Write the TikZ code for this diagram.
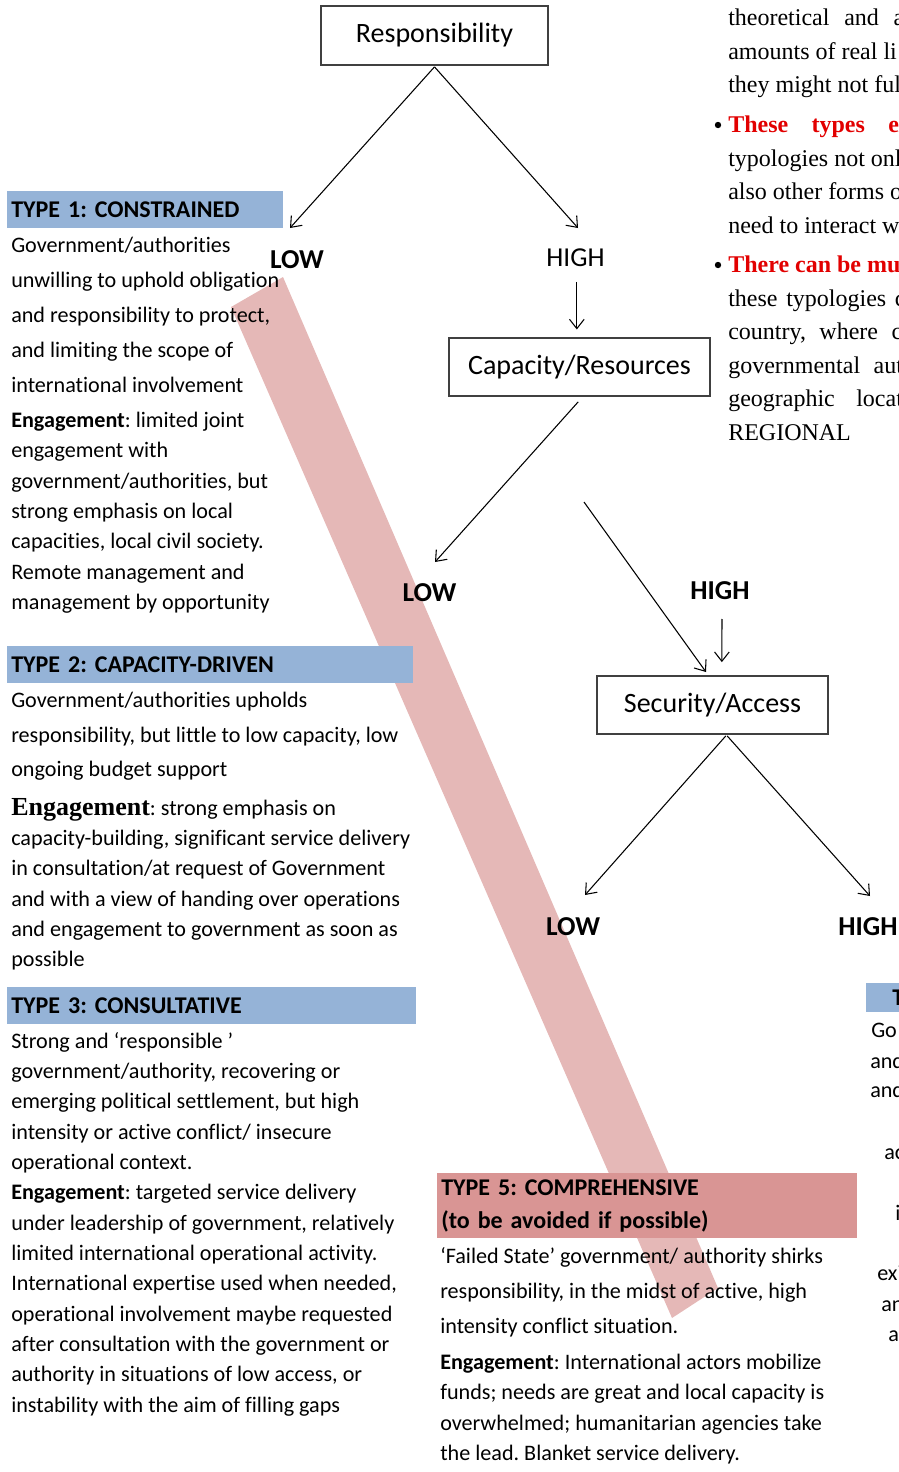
\documentclass[tikz,border=0pt]{standalone}
\usepackage{fontspec}
\setmainfont{Carlito}[Ligatures=NoCommon]
\newfontfamily\notefont{Liberation Serif}
\usetikzlibrary{arrows.meta}
\frenchspacing
\definecolor{typeblue}{RGB}{149,179,215}
\definecolor{bandpink}{RGB}{229,184,183}
\definecolor{typerose}{RGB}{217,149,148}
\definecolor{notered}{RGB}{226,0,0}
\newcommand{\bodyfont}[1]{\fontsize{16.6}{#1}\selectfont}
\newcommand{\notesize}{\notefont\fontsize{18}{25.1}\selectfont}

\begin{document}
\begin{tikzpicture}[x=0.75pt,y=0.75pt,yscale=-1,xscale=1,
  decision/.style={draw=black!75,line width=0.8pt,inner sep=0pt,font=\fontsize{21}{25}\selectfont},
  level/.style={inner sep=0pt,font=\fontsize{20.5}{24}\selectfont},
  arr/.style={-{Straight Barb[length=7pt,width=11pt]},line width=0.8pt},
  typehead/.style={fill=typeblue,anchor=north west,inner xsep=3pt,inner ysep=0pt,align=left,font=\fontsize{18}{24.75}\selectfont\bfseries},
  body/.style={anchor=north west,inner sep=0pt,align=left},
  note/.style={anchor=north west,inner sep=0pt,align=left,font=\notesize},
  dot/.style={circle,fill,inner sep=0pt,minimum size=4.8pt},
]
\useasboundingbox (0,0) rectangle (899,1472);

%Shape: diagonal band
\fill[bandpink] (231,307) -- (283,277) -- (718,1288) -- (672,1318) -- cycle;

%Decision boxes
\node[decision,minimum width=170.25pt,minimum height=44.25pt] (resp) at (434.5,35.5) {Responsibility};
\node[decision,minimum width=195.75pt,minimum height=43.5pt] (cap) at (579.5,367) {Capacity/Resources};
\node[decision,minimum width=173.25pt,minimum height=43.5pt] (sec) at (712.5,705) {Security/Access};

% Level labels
\node[level,font=\fontsize{20.5}{24}\selectfont\bfseries] (low1) at (297,260) {LOW};
\node[level] (high1) at (575.5,258) {HIGH};
\node[level,font=\fontsize{20.5}{24}\selectfont\bfseries] (low2) at (429.5,593) {LOW};
\node[level,font=\fontsize{20.5}{24}\selectfont\bfseries] (high2) at (720,591) {HIGH};
\node[level,font=\fontsize{20.5}{24}\selectfont\bfseries] (low3) at (573,927) {LOW};
\node[level,font=\fontsize{20.5}{24}\selectfont\bfseries] (high3) at (868,927) {HIGH};

% Arrow ends
\coordinate (low1tip) at (290,228);
\coordinate (high1tip) at (578,228);
\coordinate (low2tip) at (435,562);
\coordinate (crossstart) at (584,502);
\coordinate (crosstip) at (706,672);
\coordinate (low3tip) at (585,895);
\coordinate (high3tip) at (870,896);

%Straight Lines
\draw[arr] ([yshift=1pt]resp.south) -- (low1tip);
\draw[arr] ([yshift=1pt]resp.south) -- (high1tip);
\draw[arr] ([xshift=1pt,yshift=11pt]high1.south) -- ([xshift=-2pt,yshift=-6pt]cap.north);
\draw[arr] ([xshift=-1pt,yshift=4pt]cap.south) -- (low2tip);
\draw[arr] (crossstart) -- (crosstip);
\draw[arr] ([xshift=1.5pt,yshift=14pt]high2.south) -- ([xshift=7pt,yshift=-10pt]sec.north);
\draw[arr] ([xshift=10pt,yshift=1pt]sec.south) -- (low3tip);
\draw[arr] ([xshift=11pt,yshift=1pt]sec.south) -- (high3tip);

% Type headers
\node[typehead,text width=201pt,minimum height=27.75pt] (type1) at (7,191) {TYPE 1: CONSTRAINED};
\node[typehead,text width=298.5pt,minimum height=27.75pt] (type2) at (7,646) {TYPE 2: CAPACITY-DRIVEN};
\node[typehead,text width=300.75pt,minimum height=27.75pt] (type3) at (7,987) {TYPE 3: CONSULTATIVE};
\node[typehead,fill=typerose,text width=309pt,minimum height=48.75pt] (type5) at (437,1173) {TYPE 5: COMPREHENSIVE\\(to be avoided if possible)};
\fill[typeblue] (866,983) rectangle (899,1012);
\node[inner sep=0pt,anchor=west,font=\fontsize{18}{20}\selectfont\bfseries] (type4) at (892,998) {T};

% Text Node
\node[body,font=\bodyfont{26.25}] (t1a) at (11,237) {Government/authorities\\unwilling to uphold obligation\\and responsibility to protect,\\and limiting the scope of\\international involvement};
% Text Node
\node[body,font=\bodyfont{22.75}] (t1b) at (11,412) {\textbf{Engagement}: limited joint\\engagement with\\government/authorities, but\\strong emphasis on local\\capacities, local civil society.\\Remote management and\\management by opportunity};
% Text Node
\node[body,font=\bodyfont{25.9}] (t2a) at (11,692) {Government/authorities upholds\\responsibility, but little to low capacity, low\\ongoing budget support};
% Text Node
\node[body,font=\bodyfont{22.7}] (t2b) at (11,798) {{\notefont\fontsize{19.5}{22}\selectfont\bfseries Engagement}: strong emphasis on\\capacity-building, significant service delivery\\in consultation/at request of Government\\and with a view of handing over operations\\and engagement to government as soon as\\possible};
% Text Node
\node[body,font=\bodyfont{22.75}] (t3) at (11,1032) {Strong and ‘responsible ’\\government/authority, recovering or\\emerging political settlement, but high\\intensity or active conflict/ insecure\\operational context.\\\textbf{Engagement}: targeted service delivery\\under leadership of government, relatively\\limited international operational activity.\\International expertise used when needed,\\operational involvement maybe requested\\after consultation with the government or\\authority in situations of low access, or\\instability with the aim of filling gaps};
% Text Node
\node[body,font=\bodyfont{26.25}] (t5a) at (440,1247) {‘Failed State’ government/ authority shirks\\responsibility, in the midst of active, high\\intensity conflict situation.};
% Text Node
\node[body,font=\bodyfont{22.75}] (t5b) at (440,1354) {\textbf{Engagement}: International actors mobilize\\funds; needs are great and local capacity is\\overwhelmed; humanitarian agencies take\\the lead. Blanket service delivery.};

% Type 4 fragments
\foreach \fx/\fy/\ft [count=\i] in {871/1037/Go,870/1068/and,870/1097/and,884/1159/ac,895/1220/i,877/1280/exi,881/1311/an,888/1341/a}
  \node[inner sep=0pt,anchor=base west,font=\bodyfont{20}] (frag\i) at (\fx,\fy) {\ft};

% Notes column
\node[note] (note1) at (728,9) {\makebox[132pt][s]{theoretical and a}\\amounts of real li\\they might not full};
\node[dot] (dot1) at (718,125) {};
\node[note] (note2) at (728,116) {{\color{notered}\bfseries\makebox[137pt][s]{These types ex}}\\typologies not onl\\also other forms o\\need to interact w};
\node[dot] (dot2) at (718,265) {};
\node[note] (note3) at (728,256) {{\color{notered}\bfseries There can be mu}\\\makebox[133pt][s]{these typologies c}\\\makebox[130.5pt][s]{country, where c}\\\makebox[131pt][s]{governmental aut}\\\makebox[131pt][s]{geographic locat}\\REGIONAL};
\end{tikzpicture}
\end{document}
